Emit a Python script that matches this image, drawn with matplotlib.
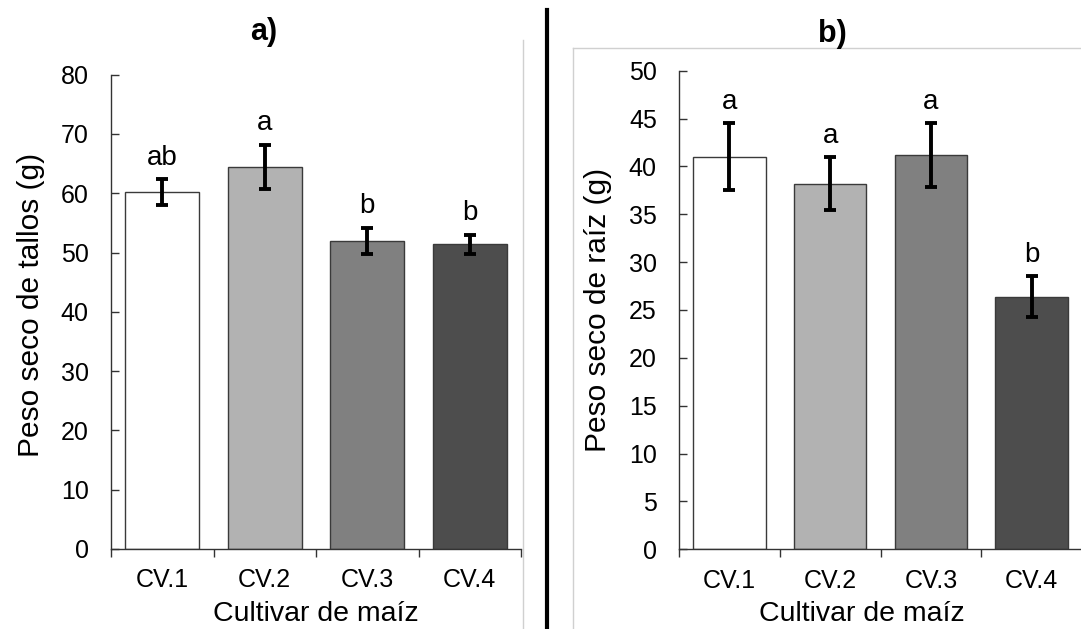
import matplotlib
matplotlib.use("Agg")
import matplotlib.pyplot as plt
from matplotlib.lines import Line2D
import numpy as np

plt.rcParams['font.family'] = ['Liberation Sans', 'DejaVu Sans']

categories = ["CV.1", "CV.2", "CV.3", "CV.4"]
colors = ["#ffffff", "#b2b2b2", "#808080", "#4d4d4d"]

stem_values = [60.2, 64.5, 52.0, 51.4]
stem_errors = [2.2, 3.7, 2.2, 1.6]
stem_letters = ["ab", "a", "b", "b"]

root_values = [41.0, 38.2, 41.2, 26.4]
root_errors = [3.5, 2.8, 3.35, 2.1]
root_letters = ["a", "a", "a", "b"]

W, H = 1081, 629
fig = plt.figure(figsize=(W / 100, H / 100), dpi=100)


def px_rect(left, right, top, bottom):
    return [left / W, 1 - bottom / H, (right - left) / W, (bottom - top) / H]


def draw(ax, values, errors, letters, ymax, ystep):
    x = np.arange(len(categories))
    ax.bar(x, values, width=0.72, color=colors, edgecolor="#3a3a3a", linewidth=1.0, zorder=2)
    ax.errorbar(x, values, yerr=errors, fmt="none", ecolor="black", elinewidth=2.8,
                capsize=4, capthick=2.8, zorder=3)
    for xi, v, e, t in zip(x, values, errors, letters):
        ax.annotate(t, (xi, v + e), xytext=(0, 6), textcoords="offset points",
                    ha="center", va="bottom", fontsize=20)
    ax.set_xlim(-0.5, len(categories) - 0.5)
    ax.set_ylim(0, ymax)
    ax.set_yticks(np.arange(0, ymax + 0.1, ystep))
    ax.tick_params(axis="y", direction="in", length=6, width=1, labelsize=18, pad=16,
                   color="#333333")
    ax.set_xticks(np.arange(-0.5, len(categories), 1.0))
    ax.set_xticklabels([])
    ax.set_xticks(x, minor=True)
    ax.set_xticklabels(categories, minor=True)
    ax.tick_params(axis="x", which="major", direction="out", length=6, width=1, color="#333333")
    ax.tick_params(axis="x", which="minor", length=0, labelsize=18, pad=14)
    for s in ["top", "right"]:
        ax.spines[s].set_visible(False)
    for s in ["left", "bottom"]:
        ax.spines[s].set_color("#333333")
        ax.spines[s].set_linewidth(1.0)


ax1 = fig.add_axes(px_rect(111, 521, 74.7, 549))
draw(ax1, stem_values, stem_errors, stem_letters, 80, 10)

ax2 = fig.add_axes(px_rect(679, 1082, 70.7, 549.3))
draw(ax2, root_values, root_errors, root_letters, 50, 5)

# axis titles
fig.text(31 / W, 1 - 305 / H, "Peso seco de tallos (g)", fontsize=21.5, rotation=90,
         ha="center", va="center")
fig.text(316 / W, 1 - 621 / H, "Cultivar de maíz", fontsize=20.5, ha="center", va="baseline")
fig.text(598 / W, 1 - 310 / H, "Peso seco de raíz (g)", fontsize=21.5, rotation=90,
         ha="center", va="center")
fig.text(862 / W, 1 - 621 / H, "Cultivar de maíz", fontsize=20.5, ha="center", va="baseline")

fig.text(264 / W, 1 - 32 / H, "a)", fontsize=22, fontweight="bold", ha="center", va="center")
fig.text(832 / W, 1 - 34 / H, "b)", fontsize=22, fontweight="bold", ha="center", va="center")

# chart-area borders and separator
grey = "#d0d0d0"
fig.add_artist(Line2D([522.5 / W, 522.5 / W], [1 - 40 / H, 0], color=grey, lw=1))
fig.add_artist(Line2D([572.5 / W, 572.5 / W], [1 - 47.5 / H, 0], color=grey, lw=1))
fig.add_artist(Line2D([572.5 / W, 1], [1 - 47.5 / H, 1 - 47.5 / H], color=grey, lw=1))
fig.add_artist(Line2D([547 / W, 547 / W], [1 - 10 / H, 0], color="black", lw=3))

fig.savefig("out.png", dpi=100)
